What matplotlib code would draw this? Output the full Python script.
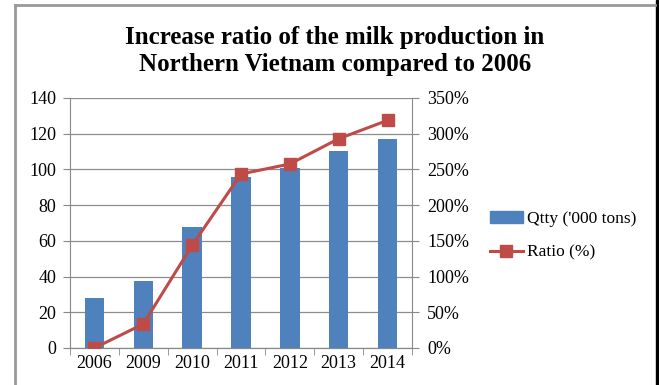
import matplotlib
matplotlib.use("Agg")
import matplotlib.pyplot as plt
from matplotlib.ticker import FixedLocator, FuncFormatter
from matplotlib.lines import Line2D
from matplotlib.patches import Rectangle
import numpy as np

years = ["2006", "2009", "2010", "2011", "2012", "2013", "2014"]
qtty = [28, 37.3, 67.9, 96, 100.8, 110.5, 117]
ratio = [0, 33.6, 143.7, 243.6, 257.6, 293, 318.7]

plt.rcParams['font.family'] = ['Liberation Serif', 'DejaVu Serif']

fig = plt.figure(figsize=(6.59, 3.85), dpi=100)
ax = fig.add_axes([70/659, 1-348/385, (412-70)/659, (348-98)/385])
ax2 = ax.twinx()

x = np.arange(len(years))
bar_color = "#4F81BD"
line_color = "#BE4B48"
ax.bar(x, qtty, width=0.4, color=bar_color, zorder=2)
ax.set_ylim(0, 140)
ax.set_yticks(range(0, 141, 20))
ax.set_xlim(-0.5, len(years) - 0.5)
ax.set_xticks(x)
ax.set_xticklabels(years)
ax.xaxis.set_minor_locator(FixedLocator(np.arange(-0.5, len(years), 1)))
ax.tick_params(axis='x', which='major', length=0, pad=5, labelsize=13)
ax.tick_params(axis='x', which='minor', length=5, color='#888888')
ax.tick_params(axis='y', length=5, color='#888888', labelsize=13, pad=5)
ax.grid(axis='y', color='#8C8C8C', linewidth=0.9, zorder=0)
ax.set_axisbelow(True)

ax2.plot(x, ratio, color=line_color, linewidth=2.2, marker='s', markersize=9,
         zorder=3)
ax2.set_ylim(0, 350)
ax2.set_yticks(range(0, 351, 50))
ax2.yaxis.set_major_formatter(FuncFormatter(lambda v, p: f"{int(v)}%"))
ax2.tick_params(axis='y', length=5, color='#888888', labelsize=13, pad=6)

for a in (ax, ax2):
    a.spines['top'].set_visible(False)
    a.spines['left'].set_color('#888888')
    a.spines['right'].set_color('#888888')
    a.spines['bottom'].set_color('#888888')
ax2.spines['left'].set_visible(False)
ax.spines['right'].set_visible(False)

fig.text(0.508, 0.868, "Increase ratio of the milk production in\nNorthern Vietnam compared to 2006",
         ha='center', va='center', fontsize=18, fontweight='bold', linespacing=1.2)

handles = [Rectangle((0, 0), 1, 1, color=bar_color),
           Line2D([], [], color=line_color, linewidth=2.2, marker='s', markersize=9)]
fig.legend(handles, ["Qtty ('000 tons)", "Ratio (%)"], loc='center left',
           bbox_to_anchor=(481/659, 1-236/385), frameon=False, fontsize=12.5,
           handlelength=1.9, handletextpad=0.25, labelspacing=1.0, borderpad=0)

# frame
fig.add_artist(Line2D([15/659, 15/659], [0, 1-5/385], color='#999999', linewidth=2, transform=fig.transFigure))
fig.add_artist(Line2D([15/659, 655/659], [1-5/385, 1-5/385], color='#999999', linewidth=2, transform=fig.transFigure))
fig.add_artist(Rectangle((656/659, 0), 3/659, 1, color='black', transform=fig.transFigure))

fig.savefig("out.png", dpi=100)
